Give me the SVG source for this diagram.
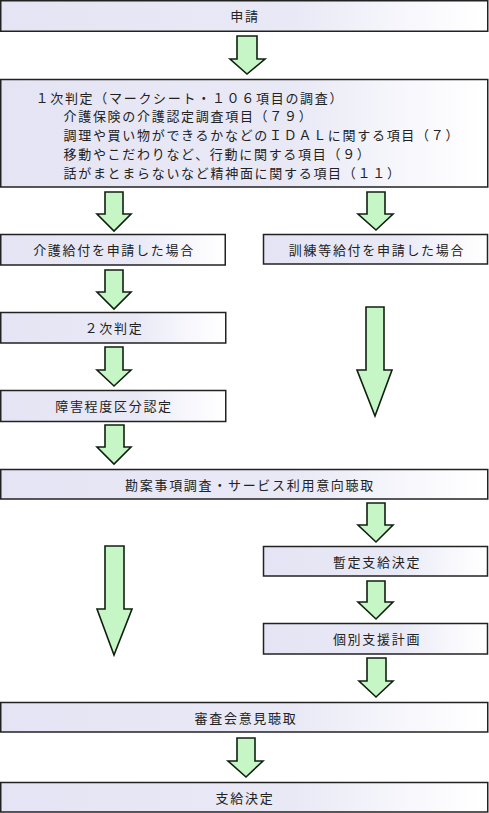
<svg xmlns="http://www.w3.org/2000/svg" width="489" height="813" viewBox="0 0 489 813">
<defs>
<linearGradient id="g" x1="0" y1="0" x2="1" y2="0">
<stop offset="0" stop-color="#e4e4f4"/>
<stop offset="0.6" stop-color="#e9e9f6"/>
<stop offset="0.9" stop-color="#fbfbfe"/>
<stop offset="1" stop-color="#ffffff"/>
</linearGradient>
<style>
.box{fill:url(#g);stroke:#222;stroke-width:1.5}
.t{font-family:"Noto Sans CJK JP","Noto Sans CJK SC",sans-serif;font-size:13px;letter-spacing:1.7px;fill:#222}
.c{text-anchor:middle}
.ar{fill:#c6f6c6;stroke:#102010;stroke-width:1.6;stroke-linejoin:miter}
</style>
</defs>
<g id="connectors">
<polygon class="ar" points="237,36 257,36 257,59 265,59 247,74 230,59 237,59"/>
<polygon class="ar" points="105,192 123,192 123,214 131,214 114,231 97,214 105,214"/>
<polygon class="ar" points="367,192 385,192 385,214 393,214 376,230 358,214 367,214"/>
<polygon class="ar" points="105,270 123,270 123,292 131,292 114,309 97,292 105,292"/>
<polygon class="ar" points="105,347 123,347 123,370 131,370 114,386 97,370 105,370"/>
<polygon class="ar" points="366,307 384,307 384,370 392,370 375,416 357,370 366,370"/>
<polygon class="ar" points="105,425 124,425 124,447 131,447 114,464 97,447 105,447"/>
<polygon class="ar" points="367,503 385,503 385,525 393,525 376,542 358,525 367,525"/>
<polygon class="ar" points="367,581 385,581 385,602 393,602 376,619 358,602 367,602"/>
<polygon class="ar" points="105,546 124,546 124,609 132,609 114,655 97,609 105,609"/>
<polygon class="ar" points="367,658 386,658 386,681 393,681 376,697 359,681 367,681"/>
<polygon class="ar" points="237,738 255,738 255,761 263,761 246,777 228,761 237,761"/>
</g>
<g id="n1"><rect class="box" x="0.75" y="0.75" width="487" height="30.5"/><text class="t c" x="245" y="21">申請</text></g>
<g id="n2"><rect class="box" x="0.75" y="79.5" width="487" height="107.5"/>
<text class="t" x="35.5" y="102.5">１次判定（マークシート・１０６項目の調査）</text>
<text class="t" x="63.5" y="121">介護保険の介護認定調査項目（７９）</text>
<text class="t" x="63.5" y="140">調理や買い物ができるかなどのＩＤＡＬに関する項目（７）</text>
<text class="t" x="63.5" y="158.5">移動やこだわりなど、行動に関する項目（９）</text>
<text class="t" x="63.5" y="177.5">話がまとまらないなど精神面に関する項目（１１）</text>
</g>
<g id="n3"><rect class="box" x="0.75" y="234.5" width="224.5" height="30.5"/><text class="t c" x="114" y="255">介護給付を申請した場合</text></g>
<g id="n4"><rect class="box" x="263.5" y="234.5" width="224" height="29.5"/><text class="t c" x="377" y="254.5">訓練等給付を申請した場合</text></g>
<g id="n5"><rect class="box" x="0.75" y="312.5" width="225" height="30.5"/><text class="t c" x="114" y="333">２次判定</text></g>
<g id="n6"><rect class="box" x="0.75" y="390.5" width="225" height="31"/><text class="t c" x="114" y="411">障害程度区分認定</text></g>
<g id="n7"><rect class="box" x="0.75" y="469.5" width="487" height="29.5"/><text class="t c" x="250" y="489.5">勘案事項調査・サービス利用意向聴取</text></g>
<g id="n8"><rect class="box" x="263.5" y="546.5" width="224" height="29.5"/><text class="t c" x="377" y="566.5">暫定支給決定</text></g>
<g id="n9"><rect class="box" x="263.5" y="623.5" width="224" height="30.5"/><text class="t c" x="377" y="644">個別支援計画</text></g>
<g id="n10"><rect class="box" x="0.75" y="702.5" width="487" height="29.5"/><text class="t c" x="246" y="722.5">審査会意見聴取</text></g>
<g id="n11"><rect class="box" x="0.75" y="782.5" width="487" height="29.5"/><text class="t c" x="245" y="802.5">支給決定</text></g>
</svg>
